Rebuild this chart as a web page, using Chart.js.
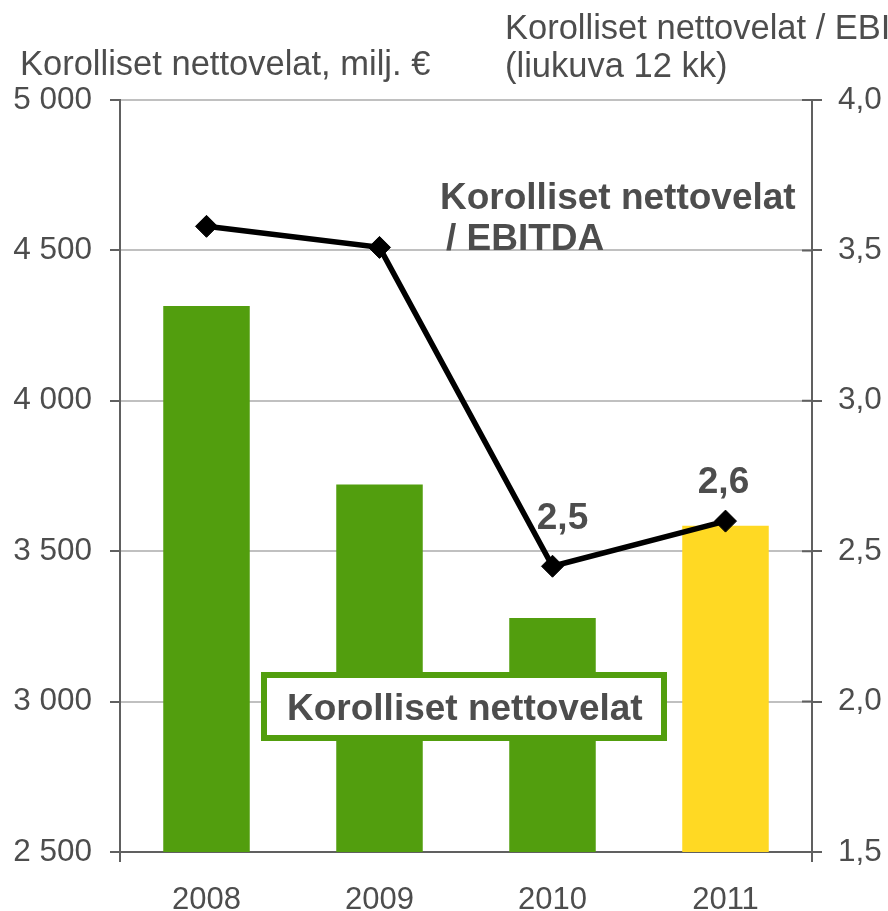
<!DOCTYPE html>
<html>
<head>
<meta charset="utf-8">
<script src="https://cdn.jsdelivr.net/npm/chart.js@4"></script>
<style>
  body { margin: 0; background: #fff; }
  #wrap { width: 888px; height: 911px; }
</style>
</head>
<body>
<div id="wrap"><canvas id="myChart"></canvas></div>
<script>
const years = ['2008', '2009', '2010', '2011'];
const netDebt = [4315, 3722, 3278, 3585];
const debtToEbitda = [3.58, 3.51, 2.45, 2.6];
const ratioLabels = [null, null, '2,5', '2,6'];
const leftTicks = [2500, 3000, 3500, 4000, 4500, 5000];
const rightTicks = [1.5, 2.0, 2.5, 3.0, 3.5, 4.0];

const green = 'rgb(82, 158, 14)';
const yellow = 'rgb(255, 217, 35)';
const textGray = '#4d4d4d';
const axisGray = '#606060';
const font = 'Liberation Sans, Arial, sans-serif';

const barColors = years.map((y, i) => i === years.length - 1 ? yellow : green);

const extras = {
    id: 'extras',
    afterDatasetsDraw(chart) {
        const ctx = chart.ctx;
        const area = chart.chartArea;
        ctx.save();
        // box over the bars
        ctx.fillStyle = '#fff';
        ctx.fillRect(264, 675, 400, 63);
        ctx.strokeStyle = green;
        ctx.lineWidth = 6;
        ctx.strokeRect(264, 675, 400, 63);
        ctx.fillStyle = textGray;
        ctx.font = 'bold 37px ' + font;
        ctx.textBaseline = 'alphabetic';
        ctx.fillText('Korolliset nettovelat', 287, 720);

        // line annotation
        ctx.fillText('Korolliset nettovelat', 440, 209);
        ctx.fillText('/ EBITDA', 446, 250);

        // value labels near points
        const meta = chart.getDatasetMeta(1);
        const offsets = [null, null, [10, -37], [-2, -28]];
        meta.data.forEach((pt, i) => {
            if (!ratioLabels[i]) return;
            ctx.textAlign = 'center';
            ctx.fillText(ratioLabels[i], pt.x + offsets[i][0], pt.y + offsets[i][1]);
        });

        // axis titles
        ctx.textAlign = 'left';
        ctx.font = '34.5px ' + font;
        ctx.fillText('Korolliset nettovelat, milj. €', 20, 75);
        ctx.fillText('Korolliset nettovelat / EBITDA', 505, 39);
        ctx.fillText('(liukuva 12 kk)', 505, 77);

        // inward ticks on right axis, axis stubs below the bottom
        ctx.strokeStyle = axisGray;
        ctx.lineWidth = 2;
        const y1 = chart.scales.y1;
        ctx.beginPath();
        y1.ticks.forEach(t => {
            const py = y1.getPixelForValue(t.value);
            ctx.moveTo(area.right - 10, py);
            ctx.lineTo(area.right, py);
        });
        ctx.moveTo(area.left, area.bottom);
        ctx.lineTo(area.left, area.bottom + 10);
        ctx.moveTo(area.right, area.bottom);
        ctx.lineTo(area.right, area.bottom + 10);
        ctx.stroke();
        ctx.restore();
    }
};

new Chart(document.getElementById('myChart'), {
    type: 'bar',
    data: {
        labels: years,
        datasets: [{
            type: 'bar',
            data: netDebt,
            backgroundColor: barColors,
            barPercentage: 0.5,
            categoryPercentage: 1,
            yAxisID: 'y',
            order: 2
        }, {
            type: 'line',
            data: debtToEbitda,
            borderColor: '#000',
            borderWidth: 5.5,
            pointStyle: 'rectRot',
            pointRadius: 11,
            pointBackgroundColor: '#000',
            pointBorderColor: '#000',
            pointBorderWidth: 1,
            tension: 0,
            yAxisID: 'y1',
            order: 1
        }]
    },
    options: {
        responsive: true,
        maintainAspectRatio: false,
        animation: false,
        layout: { padding: { top: 100, left: 0, right: 0, bottom: 0 } },
        plugins: { legend: { display: false }, tooltip: { enabled: false } },
        scales: {
            x: {
                grid: { display: false, drawTicks: false },
                border: { display: true, color: axisGray, width: 2 },
                ticks: { color: textGray, font: { family: font, size: 31 }, padding: 30 },
                afterFit(scale) { scale.height = 59; }
            },
            y: {
                position: 'left',
                min: 2500,
                max: 5000,
                afterBuildTicks(scale) { scale.ticks = leftTicks.map(v => ({ value: v })); },
                grid: { color: '#c0c0c0', lineWidth: 2, tickLength: 10, tickColor: axisGray },
                border: { color: axisGray, width: 2 },
                ticks: {
                    color: textGray,
                    font: { family: font, size: 31.5 },
                    padding: 18,
                    callback: v => String(v).replace(/(\d)(\d{3})$/, '$1 $2')
                },
                afterFit(scale) { scale.width = 120; }
            },
            y1: {
                position: 'right',
                min: 1.5,
                max: 4,
                afterBuildTicks(scale) { scale.ticks = rightTicks.map(v => ({ value: v })); },
                grid: { drawOnChartArea: false, lineWidth: 2, tickLength: 10, tickColor: axisGray },
                border: { color: axisGray, width: 2 },
                ticks: {
                    color: textGray,
                    font: { family: font, size: 31.5 },
                    padding: 16,
                    callback: v => v.toFixed(1).replace('.', ',')
                },
                afterFit(scale) { scale.width = 76; }
            }
        }
    },
    plugins: [extras]
});
</script>
</body>
</html>
